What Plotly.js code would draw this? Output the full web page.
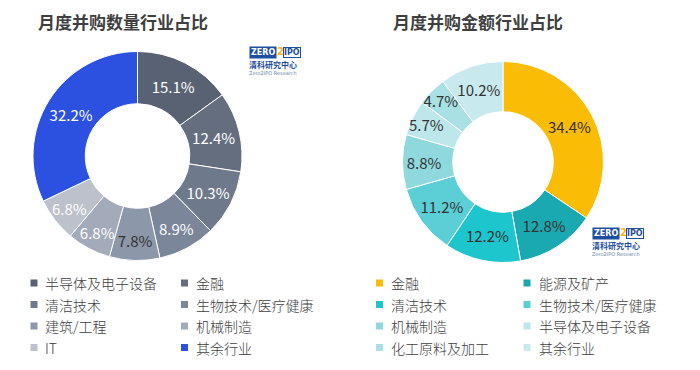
<!DOCTYPE html>
<html><head><meta charset="utf-8">
<script src="https://cdn.plot.ly/plotly-3.0.1.min.js"></script>
<style>html,body{margin:0;padding:0;background:#fff}#chart{width:700px;height:370px}</style>
</head><body><div id="chart"></div>
<script>
// ---- data ----
const countTitle = '月度并购数量行业占比';
const countLabels = ['半导体及电子设备','金融','清洁技术','生物技术/医疗健康','建筑/工程','机械制造','IT','其余行业'];
const countValues = [15.1, 12.4, 10.3, 8.9, 7.8, 6.8, 6.8, 32.2];
const countColors = ['#596273','#646e7f','#6e798b','#7b869a','#8d97aa','#a3aaba','#bcc1cc','#2c51e0'];
const countTextColors = ['#ffffff','#ffffff','#ffffff','#ffffff','#333333','#ffffff','#ffffff','#ffffff'];

const amountTitle = '月度并购金额行业占比';
const amountLabels = ['金融','能源及矿产','清洁技术','生物技术/医疗健康','机械制造','半导体及电子设备','化工原料及加工','其余行业'];
const amountValues = [34.4, 12.8, 12.2, 11.2, 8.8, 5.7, 4.7, 10.2];
const amountColors = ['#fbbc05','#1aa9b0','#1dc5cd','#5ccfd6','#8fd9de','#bde7eb','#a8e0e4','#c8eaee'];
const amountTextColors = ['#333333','#333333','#333333','#333333','#333333','#333333','#333333','#333333'];

// ---- layout helpers ----
const W = 700, H = 370, ML = 13, MR = 48;
const GW = W - ML - MR;
const X = px => (px - ML) / GW;
const Y = py => (H - py) / H;
const FONT = '"Noto Sans CJK SC", "Noto Sans", sans-serif';

const pieCommon = {
  type: 'pie', hole: 0.5, sort: false, direction: 'clockwise', rotation: 0,
  texttemplate: '%{value:.1f}%', textposition: 'inside', insidetextorientation: 'horizontal',
  hoverinfo: 'skip', showlegend: false
};

const traces = [
  Object.assign({}, pieCommon, {
    labels: countLabels, values: countValues,
    marker: {colors: countColors, line: {color: '#ffffff', width: 1}},
    textfont: {color: countTextColors, size: 15, family: FONT},
    domain: {x: [X(33), X(242)], y: [Y(260.5), Y(51.5)]}
  }),
  Object.assign({}, pieCommon, {
    labels: amountLabels, values: amountValues,
    marker: {colors: amountColors, line: {color: '#ffffff', width: 1}},
    textfont: {color: amountTextColors, size: 15, family: FONT},
    domain: {x: [X(402.5), X(603.5)], y: [Y(262.5), Y(61.5)]}
  })
];

// ---- legends (two columns, four rows) ----
const legendRows = [283, 304.5, 326, 347.5];
const shapes = [];
const annotations = [];
function addLegend(labels, colors, markerXs, textXs) {
  labels.forEach((lab, i) => {
    const col = i % 2, row = Math.floor(i / 2);
    const cy = legendRows[row];
    shapes.push({type: 'rect', xref: 'paper', yref: 'paper',
      x0: X(markerXs[col]), x1: X(markerXs[col] + 7), y0: Y(cy + 3.5), y1: Y(cy - 3.5),
      fillcolor: colors[i], line: {width: 0}});
    annotations.push({xref: 'paper', yref: 'paper', x: X(textXs[col] - 1), y: Y(cy),
      xanchor: 'left', yanchor: 'middle', showarrow: false, text: lab,
      font: {family: FONT, size: 14, color: '#404040', weight: 300}});
  });
}
addLegend(countLabels, countColors, [30.5, 181], [44, 195]);
addLegend(amountLabels, amountColors, [376, 523.5], [389.5, 538]);

// titles
annotations.push(
  {xref: 'paper', yref: 'paper', x: X(36), y: Y(21.5), xanchor: 'left', yanchor: 'middle', showarrow: false,
   text: '<b>' + countTitle + '</b>', font: {family: FONT, size: 17, color: '#3f3f3f'}},
  {xref: 'paper', yref: 'paper', x: X(391), y: Y(21.5), xanchor: 'left', yanchor: 'middle', showarrow: false,
   text: '<b>' + amountTitle + '</b>', font: {family: FONT, size: 17, color: '#3f3f3f'}}
);

// Zero2IPO logo marks
function addLogo(x0, cy) {
  const base = {xref: 'paper', yref: 'paper', showarrow: false, yanchor: 'middle'};
  annotations.push(
    Object.assign({}, base, {x: X(x0), y: Y(cy), xanchor: 'left', text: '<b>ZERO</b>',
      font: {family: 'DejaVu Sans', size: 8, color: '#ffffff'}, bgcolor: '#1f4f9e', borderpad: 1}),
    Object.assign({}, base, {x: X(x0 + 27), y: Y(cy - 1), xanchor: 'left', text: '<b>2</b>',
      font: {family: 'DejaVu Sans', size: 10, color: '#f6b51a'}, borderpad: 0}),
    Object.assign({}, base, {x: X(x0 + 34), y: Y(cy), xanchor: 'left', text: '<b>IPO</b>',
      font: {family: 'DejaVu Sans', size: 8, color: '#1f4f9e'}, bgcolor: '#ffffff', bordercolor: '#1f4f9e', borderwidth: 1, borderpad: 0}),
    Object.assign({}, base, {x: X(x0 + 24), y: Y(cy + 12), xanchor: 'center', text: '<b>清科研究中心</b>',
      font: {family: FONT, size: 8, color: '#1f4f9e'}}),
    Object.assign({}, base, {x: X(x0 + 24), y: Y(cy + 20.5), xanchor: 'center', text: 'Zero2IPO Research',
      font: {family: 'DejaVu Sans', size: 5, color: '#6a7fa8'}})
  );
}
addLogo(249, 52.5);
addLogo(592, 233.5);

const layout = {
  width: W, height: H,
  margin: {l: ML, r: MR, t: 0, b: 0, pad: 0},
  paper_bgcolor: '#ffffff', plot_bgcolor: '#ffffff',
  font: {family: FONT, color: '#404040'},
  showlegend: false,
  uniformtext: {mode: 'show', minsize: 15},
  shapes: shapes,
  annotations: annotations
};

Plotly.newPlot('chart', traces, layout, {displayModeBar: false, staticPlot: true});
</script>
</body></html>
